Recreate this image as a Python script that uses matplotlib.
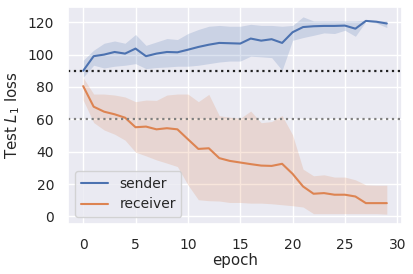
import numpy as np
import matplotlib
matplotlib.use('Agg')
import matplotlib.pyplot as plt
import seaborn as sns

sns.set_theme(style='darkgrid')

epochs = list(range(30))

sender_mean = [90.0, 99.0, 100.0, 101.6, 100.6, 103.7, 99.0, 100.6, 101.6, 101.4,
               103.0, 104.7, 106.1, 107.2, 107.0, 106.8, 109.9, 108.6, 109.5, 107.2,
               113.8, 117.0, 117.5, 117.7, 117.7, 117.9, 116.0, 120.8, 120.3, 119.2]
sender_upper = [96.5, 102.7, 107.0, 108.4, 107.0, 112.4, 105.7, 107.8, 109.9, 109.3,
                113.0, 115.5, 117.5, 118.0, 117.5, 117.5, 118.7, 118.0, 118.0, 117.5,
                118.0, 123.3, 120.8, 120.8, 120.8, 120.8, 120.8, 121.2, 120.8, 120.8]
sender_lower = [86.0, 93.4, 91.7, 92.8, 93.4, 94.4, 91.3, 92.0, 92.3, 92.8,
                92.8, 93.4, 94.4, 95.4, 96.0, 96.0, 99.0, 98.6, 98.1, 90.3,
                108.8, 110.5, 111.9, 113.4, 113.0, 115.0, 111.3, 120.5, 119.5, 116.7]

receiver_mean = [80.5, 67.8, 64.7, 63.1, 61.0, 55.1, 55.5, 53.8, 54.5, 53.8,
                 47.7, 41.7, 42.1, 36.0, 34.3, 33.3, 32.3, 31.4, 31.2, 32.5,
                 26.3, 18.5, 14.0, 14.4, 13.4, 13.4, 12.3, 8.2, 8.2, 8.2]
receiver_upper = [85.7, 75.6, 75.6, 75.0, 73.8, 70.9, 71.9, 71.7, 75.0, 75.6,
                  75.6, 70.9, 75.4, 62.2, 61.3, 60.6, 65.1, 57.9, 58.6, 62.3,
                  50.4, 29.2, 25.1, 25.7, 24.3, 24.3, 22.6, 19.5, 19.3, 19.3]
receiver_lower = [71.9, 58.0, 53.4, 50.8, 47.1, 39.7, 37.4, 34.9, 32.9, 30.8,
                  19.5, 10.3, 9.7, 9.5, 8.6, 8.6, 8.2, 8.2, 7.8, 7.2,
                  6.6, 5.8, 1.7, 1.7, 1.7, 1.7, 1.7, 1.7, 1.7, 1.4]

ref_sender = 90
ref_receiver = 60

fig = plt.figure(figsize=(4.13, 2.74), dpi=100)
ax = fig.add_axes([68 / 413, 1 - 224 / 274, (402 - 68) / 413, (224 - 7) / 274])

blue = sns.color_palette('deep')[0]
orange = sns.color_palette('deep')[1]

ax.fill_between(epochs, sender_lower, sender_upper, color=blue, alpha=0.2, linewidth=0)
ax.plot(epochs, sender_mean, color=blue, lw=1.5, label='sender')
ax.fill_between(epochs, receiver_lower, receiver_upper, color=orange, alpha=0.2, linewidth=0)
ax.plot(epochs, receiver_mean, color=orange, lw=1.5, label='receiver')

ax.axhline(ref_sender, color='#222222', ls=':', lw=1.6)
ax.axhline(ref_receiver, color='grey', ls=':', lw=1.6)

ax.set_xticks([0, 5, 10, 15, 20, 25, 30])
ax.set_yticks([0, 20, 40, 60, 80, 100, 120])
ax.tick_params(labelsize=10, pad=4)
ax.set_xlabel('epoch', fontsize=10.8, labelpad=1)
ax.set_ylabel('Test $L_1$ loss', fontsize=10.8, labelpad=4)
ax.legend(loc='lower left', fontsize=10)

fig.savefig('out.png', dpi=100)
